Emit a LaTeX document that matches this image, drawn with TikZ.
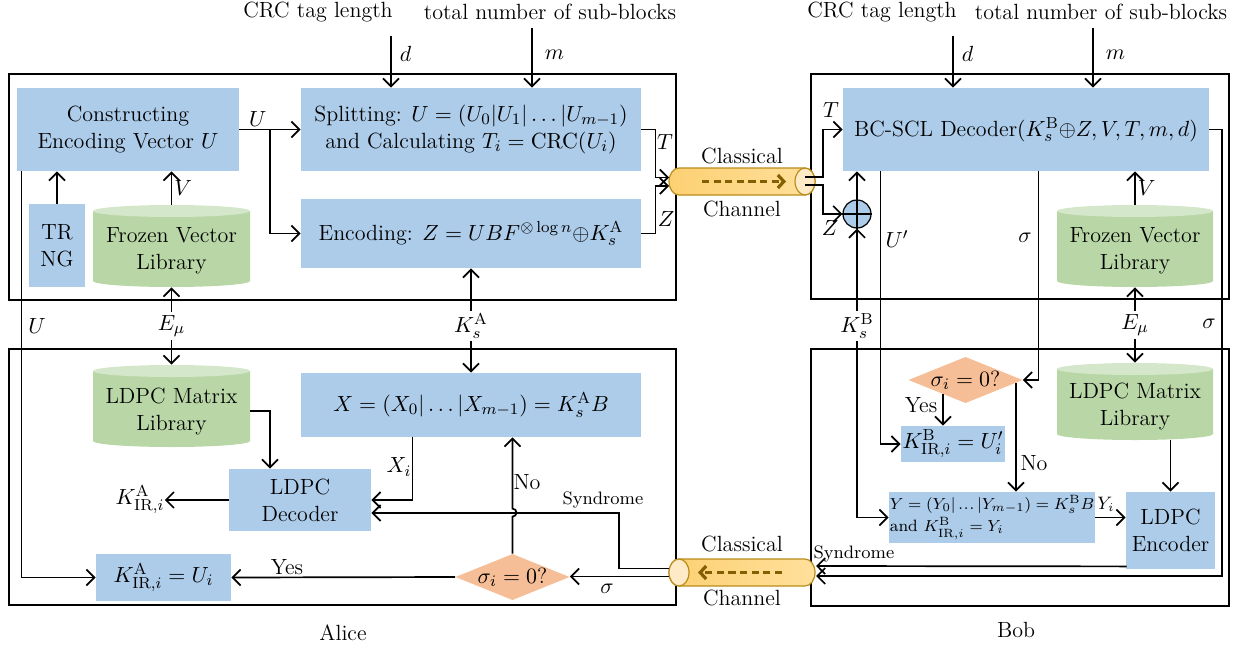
\documentclass[tikz,border=0pt]{standalone}
\usetikzlibrary{arrows.meta,calc,shapes.geometric}
\definecolor{boxblue}{RGB}{173,204,234}
\definecolor{gbody}{RGB}{185,215,166}
\definecolor{gtop}{RGB}{213,231,202}
\definecolor{dorange}{RGB}{245,190,150}
\definecolor{chanA}{RGB}{253,208,115}
\definecolor{chanB}{RGB}{255,224,155}
\definecolor{chanE}{RGB}{255,234,200}
\definecolor{chanD}{RGB}{185,140,25}
\definecolor{chanArr}{RGB}{130,95,0}
\newcommand\cdts{\mathord{.\kern0.4pt.\kern0.4pt.}}
\newcommand\bx[6]{\node[bluebox, minimum width={(#4-#2)*0.5pt}, minimum height={(#5-#3)*0.5pt}] (#1) at ({(#2+#4)/2},{(#3+#5)/2}) {#6};}
\newcommand\cyl[6]{%
 \fill[gbody] ({#2},{#3+6}) -- ({#2},{#5-6}) arc[start angle=180,end angle=360,x radius={(#4-#2)*0.25pt},y radius=3pt] -- ({#4},{#3+6}) -- cycle;
 \fill[gtop] ({(#2+#4)/2},{#3+6}) ellipse[x radius={(#4-#2)*0.25pt},y radius=3pt];
 \node[plain, minimum width={(#4-#2)*0.5pt}, minimum height={(#5-#3)*0.5pt}] (#1) at ({(#2+#4)/2},{(#3+#5)/2}) {};
 \node[plain] (#1-t) at ({(#2+#4)/2},{(#3+#5)/2+5}) {#6};}
\newcommand\dia[4]{%
 \fill[dorange] ({#2-57},{#3}) -- ({#2},{#3-23}) -- ({#2+57},{#3}) -- ({#2},{#3+23}) -- cycle;
 \node[plain, minimum width=57pt, minimum height=23pt] (#1) at (#2,#3) {#4};}
\begin{document}
\begin{tikzpicture}[x=0.5pt,y=-0.5pt, font=\fontsize{11}{13.5}\selectfont,
 arr/.style={-{Straight Barb[length=4pt,width=8pt]}, line width=0.85pt},
 darr/.style={{Straight Barb[length=4pt,width=8pt]}-{Straight Barb[length=4pt,width=8pt]}, line width=0.85pt},
 panel/.style={line width=0.6pt},
 bluebox/.style={fill=boxblue, inner sep=0pt, align=center},
 plain/.style={inner sep=0pt, align=center},
 lbl/.style={inner sep=1pt},
 wlbl/.style={fill=white, inner sep=1.5pt},
 small/.style={font=\fontsize{9}{11}\selectfont},
]
\useasboundingbox (0,0) rectangle (1245,647);

% panels
\draw[panel] (9,74) rectangle (676,300);
\draw[panel] (9,349) rectangle (676,605);
\draw[panel] (811,74) rectangle (1229,299);
\draw[panel] (811,349) rectangle (1229,606);

% top texts
\node[plain] (crcA) at (318,12) {CRC tag length};
\node[plain] (totA) at (550,12) {total number of sub-blocks};
\node[plain] (crcB) at (882,12) {CRC tag length};
\node[plain] (totB) at (1101,12) {total number of sub-blocks};

% Alice nodes
\bx{cons}{17}{88}{239}{171}{Constructing\\Encoding Vector $U$}
\bx{trng}{29}{204}{85}{287}{TR\\NG}
\cyl{frzA}{93}{205}{250}{287}{Frozen Vector\\Library}
\bx{split}{301}{88}{641}{171}{Splitting: $U=(U_0|U_1|\ldots|U_{m-1})$\\and Calculating $T_i=\mathrm{CRC}(U_i)$}
\bx{enc}{301}{199}{641}{268}{Encoding: $Z=UBF^{\otimes\log n}{\oplus}K_s^{\mathrm{A}}$}
\cyl{mtxA}{93}{365}{250}{447}{LDPC Matrix\\Library}
\bx{xA}{301}{373}{641}{437}{$X=(X_0|\ldots|X_{m-1})=K_s^{\mathrm{A}}B$}
\bx{dec}{229}{469}{371}{531}{LDPC\\Decoder}
\bx{kirA}{96}{554}{231}{601}{$K^{\mathrm{A}}_{\mathrm{IR},i}=U_i$}
\dia{diaA}{512.5}{577}{$\sigma_i=0$?}
\node[plain] (kirT) at (140,500) {$K^{\mathrm{A}}_{\mathrm{IR},i}$};

% Bob nodes
\bx{bcscl}{843}{88}{1209}{171}{BC-SCL Decoder$(K_s^{\mathrm{B}}{\oplus}Z, V, T, m, d)$}
\cyl{frzB}{1057}{205}{1213}{287}{Frozen Vector\\Library}
\cyl{mtxB}{1057}{363}{1213}{440}{LDPC Matrix\\Library}
\dia{diaB}{965.5}{380}{$\sigma_i=0$?}
\bx{kirB}{901}{426}{1005}{462}{$K^{\mathrm{B}}_{\mathrm{IR},i}=U_i'$}
\node[bluebox, align=left, minimum width=103pt, minimum height=25.5pt, font=\fontsize{8.2}{11}\selectfont] (ybox) at (992,517.5) {$Y=(Y_0|\,\cdts\,|Y_{m-1})=K_s^{\mathrm{B}}B$\\and $K^{\mathrm{B}}_{\mathrm{IR},i}=Y_i$};
\bx{encB}{1126}{492}{1215}{569}{LDPC\\Encoder}
\node[circle, draw, fill=boxblue, minimum size=14pt, inner sep=0pt, line width=0.6pt] (oplus) at (857,214) {};
\draw[line width=0.6pt] (oplus.north) -- (oplus.south) (oplus.west) -- (oplus.east);

% channels
\shadedraw[left color=chanA, right color=chanB, draw=chanD, line width=0.6pt] (679,168) -- (805,168) arc[start angle=90,end angle=-90,x radius=5pt,y radius=6.75pt] -- (679,195) arc[start angle=270,end angle=90,x radius=5pt,y radius=6.75pt] -- cycle;
\filldraw[fill=chanE, draw=chanD, line width=0.6pt] (805,181.5) ellipse[x radius=5pt, y radius=6.75pt];
\node[plain, minimum width=73pt, minimum height=13.5pt] (ch1) at (742,181.5) {};
\draw[chanArr, line width=1.6pt, dash pattern=on 3.6pt off 2.2pt, -{Straight Barb[length=3pt,width=6.5pt]}] (702,181.5) -- (786,181.5);
\node[plain] (ch1c) at (742,156) {Classical};
\node[plain] (ch1n) at (742,209) {Channel};

\shadedraw[left color=chanA, right color=chanB, draw=chanD, line width=0.6pt] (679,559) -- (805,559) arc[start angle=90,end angle=-90,x radius=5pt,y radius=6.75pt] -- (679,586) arc[start angle=270,end angle=90,x radius=5pt,y radius=6.75pt] -- cycle;
\filldraw[fill=chanE, draw=chanD, line width=0.6pt] (679,572.5) ellipse[x radius=5pt, y radius=6.75pt];
\node[plain, minimum width=73pt, minimum height=13.5pt] (ch2) at (742,572.5) {};
\draw[chanArr, line width=1.6pt, dash pattern=on 3.6pt off 2.2pt, -{Straight Barb[length=3pt,width=6.5pt]}] (782,572.5) -- (698,572.5);
\node[plain] (ch2c) at (742,544) {Classical};
\node[plain] (ch2n) at (742,598) {Channel};

% Alice connectors
\draw[arr] (cons.east) -- (split.west) node[lbl, pos=0.3, above] (lu) {$U$};
\coordinate (ubr) at (270,129.5);
\draw[arr] (ubr) |- (enc.west);
\draw[arr] (trng.north) -- (trng.north |- cons.south);
\draw[arr] (frzA.north) -- (frzA.north |- cons.south) node[lbl, midway, right] (lv) {$V$};
\coordinate (dA) at (391,36);
\draw[arr] (dA) -- (dA |- split.north) node[lbl, pos=0.35, right=3pt] (ld) {$d$};
\coordinate (mA) at (532,28);
\draw[arr] (mA) -- (mA |- split.north) node[lbl, pos=0.45, right=5pt] (lm) {$m$};
\coordinate (ch1T) at (669,177.5);
\coordinate (ch1Z) at (669,186);
\draw[arr] (split.east) -- ++(14,0) |- (ch1T);
\node[lbl] (lT) at (665,142) {$T$};
\draw[arr] (enc.east) -- ++(14,0) |- (ch1Z);
\node[lbl] (lZ) at (666,219) {$Z$};
\draw[darr] (frzA.south) -- (mtxA.north);
\node[wlbl] (lemA) at (171.5,326) {$E_\mu$};
\draw[darr] (enc.south) -- (xA.north);
\node[wlbl] (lksA) at (471,326) {$K_s^{\mathrm{A}}$};
\draw[arr] ($(cons.south west)+(5,0)$) |- (kirA.west);
\node[lbl] (lU2) at (37,326) {$U$};
\draw[arr] ($(mtxA.east)+(0,5)$) -| ($(dec.north)+(-30,0)$);
\draw[arr] ($(xA.south west)+(112,0)$) |- (dec.east);
\node[lbl] (lXi) at (399,467) {$X_i$};
\draw[arr] (dec.west) -- (kirT.east);
\draw[arr] (diaA.north) -- ++(0,-37) arc[start angle=-90,end angle=90,radius=2pt] -- (diaA.north |- xA.south);
\node[lbl] (lNoA) at (527,482) {No};
\coordinate (ch2L1) at (669,568.5);
\coordinate (ch2L2) at (669,576.5);
\draw[arr] (ch2L1) -- (619,568.5) |- ($(dec.east)+(0,13)$);
\node[lbl, small] (lsynA) at (603,500) {Syndrome};
\draw[arr] (ch2L2) -- (diaA.east |- ch2L2);
\node[lbl] (lsigA) at (607,589) {$\sigma$};
\draw[arr] (diaA.west) -- (kirA.east);
\node[lbl] (lyesA) at (287,567) {Yes};

% Bob connectors
\coordinate (ch1R1) at (805,177);
\coordinate (ch1R2) at (805,185);
\draw[arr] (ch1R1) -- (823,177) |- (bcscl.west);
\node[lbl] (lTB) at (831,110) {$T$};
\draw[arr] (ch1R2) -- (823,185) |- (oplus.west);
\node[lbl] (lZB) at (830,228) {$Z$};
\draw[arr] (oplus.north) -- (oplus.north |- bcscl.south);
\draw[darr] (oplus.south) |- (ybox.west);
\node[wlbl] (lksB) at (857,326) {$K_s^{\mathrm{B}}$};
\coordinate (dB) at (953,36);
\draw[arr] (dB) -- (dB |- bcscl.north) node[lbl, pos=0.35, right=3pt] (ldB) {$d$};
\coordinate (mB) at (1093,28);
\draw[arr] (mB) -- (mB |- bcscl.north) node[lbl, pos=0.45, right=5pt] (lmB) {$m$};
\draw[arr] (frzB.north) -- (frzB.north |- bcscl.south) node[lbl, midway, right] (lvB) {$V$};
\draw[darr] (frzB.south) -- (mtxB.north);
\node[wlbl] (lemB) at (1135,325) {$E_\mu$};
\draw[arr] ($(bcscl.south west)+(38,0)$) |- (kirB.west);
\node[lbl] (lUp) at (897,239) {$U'$};
\draw[arr] ($(bcscl.south west)+(196,0)$) |- (diaB.east);
\node[lbl] (lsigB) at (1025,238) {$\sigma$};
\coordinate (yesB) at (943,394);
\draw[arr] (yesB) -- (yesB |- kirB.north);
\node[lbl] (lyesB) at (921,405) {Yes};
\coordinate (noB) at (1016,382.5);
\draw[arr] (noB) -- (noB |- ybox.north);
\node[lbl] (lNoB) at (1034,463) {No};
\draw[arr] (ybox.east) -- (ybox.east -| encB.west);
\node[lbl, font=\fontsize{9}{11}\selectfont] (lYi) at (1106,504) {$Y_i$};
\draw[arr] (mtxB.south -| encB.north) -- (encB.north);
\coordinate (ch2R1) at (816,566);
\coordinate (ch2R2) at (816,576);
\draw[arr] ($(encB.south west)+(1,-3)$) -- (ch2R1);
\node[lbl, small] (lsynB) at (854,554) {Syndrome};
\draw[arr] (bcscl.east) -- (1222,129.5) -- (1222,576) -- (ch2R2);
\node[lbl] (lsigR) at (1209,324) {$\sigma$};

% captions
\node[plain] (alice) at (343,633) {Alice};
\node[plain] (bob) at (1016,630) {Bob};
\end{tikzpicture}
\end{document}
